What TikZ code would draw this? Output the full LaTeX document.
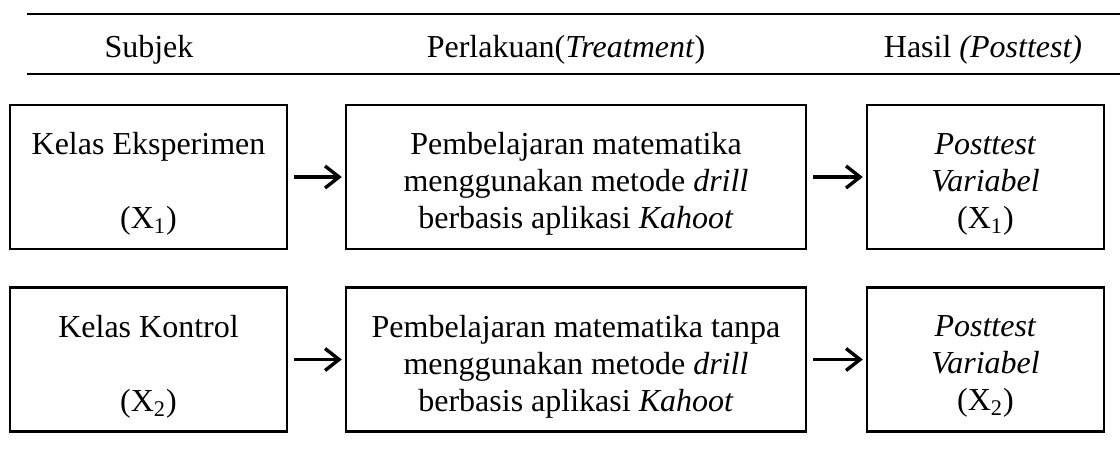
\documentclass[tikz,border=0pt]{standalone}
\usepackage{fontspec}
\setmainfont{Liberation Serif}
\usetikzlibrary{arrows.meta}
\begin{document}
\begin{tikzpicture}[x=0.5pt,y=-0.5pt,
  txt/.style={font=\fontsize{16pt}{18.5pt}\selectfont,inner sep=0pt},
  lbl/.style={txt,align=center},
  box/.style={draw,line width=1.2pt,inner sep=0pt,minimum height=72pt},
  rule/.style={line width=1.3pt},
  arr/.style={line width=1.7pt,-{Straight Barb[length=7pt,width=11pt,line width=1.7pt]},shorten <=3pt,shorten >=1.5pt}
]
\useasboundingbox (0,0) rectangle (1120,461);
% header rules
\draw[rule] (27,14) -- (1120,14);
\draw[rule] (27,74) -- (1120,74);
% header texts
\node[txt] (h1) at (149,50) {Subjek};
\node[txt] (h2) at (566,50) {Perlakuan(\textit{Treatment})};
\node[txt] (h3) at (983,50) {Hasil \textit{(Posttest)}};
% row 1 boxes
\node[box,minimum width=138.5pt] (a1) at (148.5,177) {};
\node[box,minimum width=230pt] (a2) at (576,177) {};
\node[box,minimum width=118.5pt] (a3) at (985.5,177) {};
% row 2 boxes
\node[box,minimum width=138.5pt] (b1) at (148.5,359.5) {};
\node[box,minimum width=230pt] (b2) at (576,359.5) {};
\node[box,minimum width=118.5pt] (b3) at (985.5,359.5) {};
% box texts
\node[lbl] (ta1) at ([yshift=-3.5pt]a1.center) {Kelas Eksperimen\\[18.5pt](X\textsubscript{1})};
\node[lbl] (ta2) at ([yshift=-3.5pt]a2.center) {Pembelajaran matematika\\menggunakan metode \textit{drill}\\berbasis aplikasi \textit{Kahoot}};
\node[lbl] (ta3) at ([yshift=-3.5pt]a3.center) {\textit{Posttest}\\\textit{Variabel}\\(X\textsubscript{1})};
\node[lbl] (tb1) at ([yshift=-3.5pt]b1.center) {Kelas Kontrol\\[18.5pt](X\textsubscript{2})};
\node[lbl] (tb2) at ([yshift=-3.5pt]b2.center) {Pembelajaran matematika tanpa\\menggunakan metode \textit{drill}\\berbasis aplikasi \textit{Kahoot}};
\node[lbl] (tb3) at ([yshift=-3.5pt]b3.center) {\textit{Posttest}\\\textit{Variabel}\\(X\textsubscript{2})};
% arrows
\draw[arr] (a1) -- (a2);
\draw[arr] (a2) -- (a3);
\draw[arr] (b1) -- (b2);
\draw[arr] (b2) -- (b3);
\end{tikzpicture}
\end{document}
